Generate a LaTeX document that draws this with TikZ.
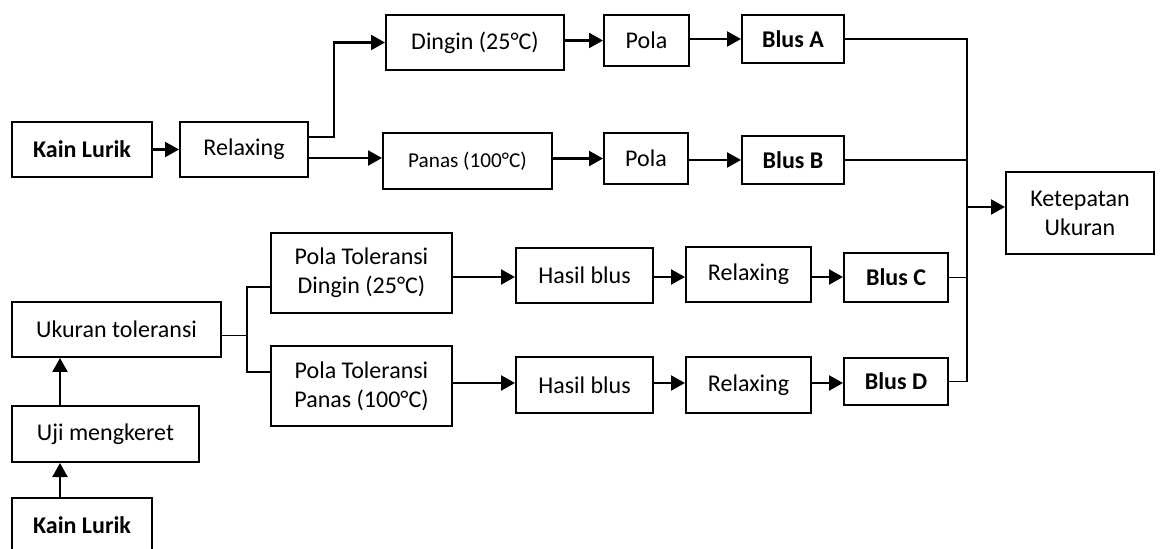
\documentclass[tikz,border=0pt]{standalone}
\usepackage{fontspec}
\setmainfont{Carlito}
\usetikzlibrary{arrows.meta,calc}
\begin{document}
\begin{tikzpicture}[x=0.5pt,y=-0.5pt,
 box/.style={draw,line width=1pt,inner sep=0pt,align=center,font=\fontsize{12}{14.5}\selectfont},
 bbox/.style={box,font=\fontsize{12}{14.5}\selectfont\bfseries},
 arr/.style={line width=1.1pt,-{Triangle[length=7pt,width=7.5pt]}},
 ln/.style={line width=0.8pt},
 thinln/.style={line width=0.7pt}]
\useasboundingbox (0,0) rectangle (1160,549);
% top branch
\node[bbox,minimum width=70pt,minimum height=27.5pt] (kain1) at (82,149.5) {Kain Lurik};
\node[box,minimum width=64pt,minimum height=27.5pt] (relax1) at (244,149.5) {Relaxing};
\node[box,minimum width=89pt,minimum height=27.5pt] (dingin) at (475,42.5) {Dingin (25°C)};
\node[box,minimum width=42.5pt,minimum height=25.5pt] (pola1) at (646.5,40.5) {Pola};
\node[bbox,minimum width=51pt,minimum height=24pt] (blusA) at (793,39) {Blus A};
\node[box,minimum width=84.5pt,minimum height=28pt,font=\fontsize{10.6}{13}\selectfont] (panas) at (467.5,161) {Panas (100°C)};
\node[box,minimum width=42pt,minimum height=25.5pt] (pola2) at (646,158.5) {Pola};
\node[bbox,minimum width=51pt,minimum height=24pt] (blusB) at (793,160) {Blus B};
\node[box,minimum width=74pt,minimum height=41pt] (ketep) at (1080,213) {Ketepatan\\Ukuran};
% bottom branch
\node[box,minimum width=104.5pt,minimum height=27.5pt] (ukur) at (116.5,329.5) {Ukuran toleransi};
\node[box,minimum width=93.5pt,minimum height=28pt] (uji) at (105.5,434) {Uji mengkeret};
\node[bbox,minimum width=70pt,minimum height=27.5pt] (kain2) at (82,525.5) {Kain Lurik};
\node[box,minimum width=90.5pt,minimum height=40pt] (ptd) at (361.5,273) {Pola Toleransi\\Dingin (25°C)};
\node[box,minimum width=90.5pt,minimum height=40pt] (ptp) at (361.5,386) {Pola Toleransi\\Panas (100°C)};
\node[box,minimum width=68.5pt,minimum height=27.5pt] (hc) at (584.5,275.5) {Hasil blus};
\node[box,minimum width=62.5pt,minimum height=27.5pt] (rc) at (748.5,274.5) {Relaxing};
\node[bbox,minimum width=52pt,minimum height=24.5pt] (bc) at (896,277.5) {Blus C};
\node[box,minimum width=68.5pt,minimum height=28pt] (hd) at (584.5,385) {Hasil blus};
\node[box,minimum width=62.5pt,minimum height=28pt] (rd) at (748.5,385) {Relaxing};
\node[bbox,minimum width=52pt,minimum height=23.5pt] (bd) at (896,381.5) {Blus D};
% connectors top
\draw[arr] (kain1.east) -- (relax1.west);
\draw[arr] ($(relax1.east)+(0,-12.5)$) -- ++(25,0) |- (dingin.west);
\draw[arr] ($(relax1.east)+(0,8.5)$) coordinate (r1b) -- (panas.west |- r1b);
\draw[arr] (dingin.east |- pola1.west) -- (pola1.west);
\draw[arr] (pola1.east |- blusA.west) -- (blusA.west);
\draw[arr] (panas.east |- pola2.west) -- (pola2.west);
\draw[arr] (pola2.east |- blusB.west) -- (blusB.west);
% collector
\coordinate (col) at (967,0);
\draw[thinln] (blusA.east) -- (blusA.east -| col) -- (bd.east -| col) -- (bd.east);
\draw[thinln] (blusB.east) -- (blusB.east -| col);
\draw[thinln] (bc.east) -- (bc.east -| col);
\draw[arr] ($(ketep.west -| col)+(0,-6)$) coordinate (kin) -- (ketep.west |- kin);
% connectors bottom
\draw[arr] ($(kain2.north west)+(49,0)$) -- ($(uji.south west)+(49,0)$);
\draw[arr] ($(uji.north west)+(49,0)$) -- ($(ukur.south west)+(49,0)$);
\draw[ln] ($(ukur.east)+(0,6)$) -- ++(25,0) coordinate (sp);
\draw[ln] ($(ptd.west)+(0,14)$) coordinate (pd) -| (sp) |- ($(ptp.west)+(0,-14)$);
\draw[arr] ($(ptd.east)+(0,4)$) coordinate (pde) -- (hc.west |- pde);
\draw[arr] (hc.east |- pde) -- (rc.west |- pde);
\draw[arr] (rc.east |- pde) -- (bc.west |- pde);
\draw[arr] ($(ptp.east)+(0,-3)$) coordinate (ppe) -- (hd.west |- ppe);
\draw[arr] (hd.east |- ppe) -- (rd.west |- ppe);
\draw[arr] (rd.east |- ppe) -- (bd.west |- ppe);
\end{tikzpicture}
\end{document}
